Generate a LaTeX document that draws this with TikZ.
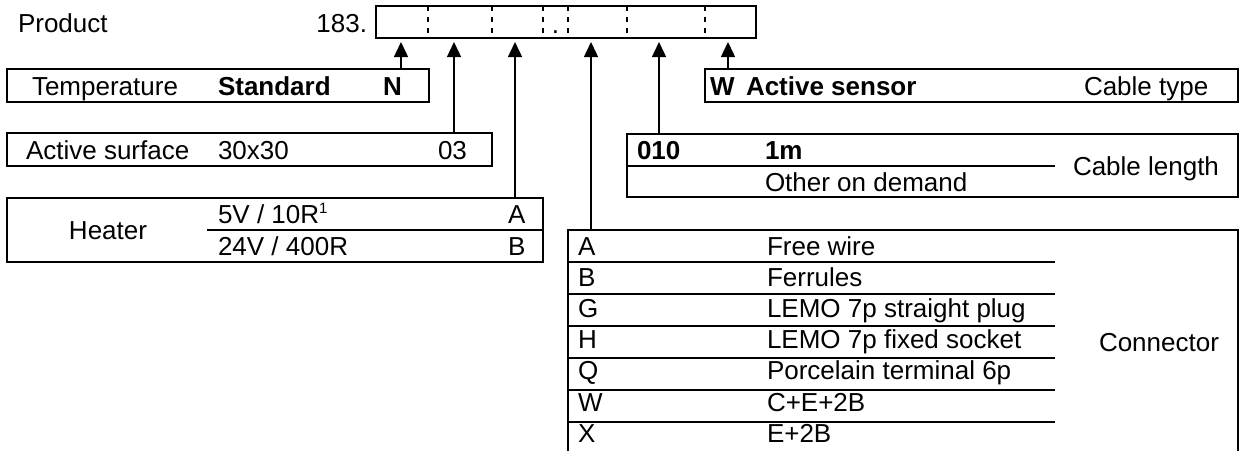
\documentclass[tikz,border=0pt]{standalone}
\usepackage{fontspec}
\setmainfont{Liberation Sans}
\usetikzlibrary{arrows.meta}
\begin{document}
\begin{tikzpicture}[x=1pt,y=-1pt,
  box/.style={draw,line width=2.2pt,inner sep=0,outer sep=0,rectangle},
  txt/.style={anchor=base west,inner sep=0,outer sep=0,font=\fontsize{26}{30}\selectfont},
  btxt/.style={anchor=base west,inner sep=0,outer sep=0,font=\fontsize{26}{30}\selectfont\bfseries},
  arr/.style={line width=1.4pt,-{Triangle[length=15pt,width=14pt]}},
  sepline/.style={line width=1.3pt,dash pattern=on 5pt off 6pt},
  rowline/.style={line width=2pt}]
\useasboundingbox (0,0) rectangle (1239,450);

% product code line
\node[txt] (prodlbl) at (18,32) {Product};
\node[txt,anchor=base east] (prefix) at (367,32) {183.};
\node[box,minimum width=380pt,minimum height=32pt] (prod) at (566,22) {};
\foreach \x in {428,492,543,568,627,705}
  \draw[sepline] (\x,6) -- (\x,38);
\node[txt,anchor=base] (dot) at (555.5,33) {.};

% boxes
\node[box,minimum width=422pt,minimum height=33pt] (temp) at (218,85.5) {};
\node[box,minimum width=533pt,minimum height=33pt] (wbox) at (971.5,85.5) {};
\node[box,minimum width=485pt,minimum height=33pt] (surf) at (249.5,149.5) {};
\node[box,minimum width=611pt,minimum height=63pt] (len) at (932.5,165.5) {};
\node[box,minimum width=536pt,minimum height=64pt] (heat) at (275,230) {};
\node[box,minimum width=670pt,minimum height=226pt] (conn) at (903,343) {};

% arrow tips
\coordinate (t1) at (401,42);
\coordinate (t2) at (454,42);
\coordinate (t3) at (515,42);
\coordinate (t4) at (591,42);
\coordinate (t5) at (659,42);
\coordinate (t6) at (728,42);
\draw[arr] (t1 |- temp.north) -- (t1);
\draw[arr] (t2 |- surf.north) -- (t2);
\draw[arr] (t3 |- heat.north) -- (t3);
\draw[arr] (t4 |- conn.north) -- (t4);
\draw[arr] (t5 |- len.north) -- (t5);
\draw[arr] (t6 |- wbox.north) -- (t6);

% temperature
\node[txt] (templbl) at (32,95) {Temperature};
\node[btxt] (tempstd) at (218,95) {Standard};
\node[btxt] (tempN) at (383,95) {N};

% cable type
\node[btxt] (wW) at (710,95) {W};
\node[btxt] (wact) at (746,95) {Active sensor};
\node[txt] (wlbl) at (1084,95) {Cable type};

% active surface
\node[txt] (surflbl) at (26,159) {Active surface};
\node[txt] (surfval) at (218,159) {30x30};
\node[txt] (surfcode) at (438,159) {03};

% cable length
\node[btxt] (len010) at (637,159) {010};
\node[btxt] (len1m) at (765,159) {1m};
\node[txt] (lenother) at (765,191) {Other on demand};
\node[txt] (lenlbl) at (1073,175) {Cable length};
\draw[rowline] (len.west |- 0,166) -- (1055,166);

% heater
\node[txt,anchor=base] (heatlbl) at (108,239) {Heater};
\draw[rowline] (207,229.5) -- (heat.east |- 0,229.5);
\node[txt] (heat5) at (218,223) {5V / 10R\textsuperscript{\fontsize{15}{15}\selectfont 1}};
\node[txt] (heatA) at (508,223) {A};
\node[txt] (heat24) at (218,255) {24V / 400R};
\node[txt] (heatB) at (508,255) {B};

% connector
\foreach \y in {262,294,326,358,390,422}
  \draw[rowline] (conn.west |- 0,\y) -- (1055,\y);
\foreach \c/\d [count=\i] in {A/Free wire,B/Ferrules,G/LEMO 7p straight plug,H/LEMO 7p fixed socket,Q/Porcelain terminal 6p,W/C+E+2B,X/E+2B}{
  \node[txt] (cc\i) at (578,{255+31.2*(\i-1)}) {\c};
  \node[txt] (cd\i) at (767,{255+31.2*(\i-1)}) {\d};
}
\node[txt] (connlbl) at (1099,351) {Connector};
\end{tikzpicture}
\end{document}
